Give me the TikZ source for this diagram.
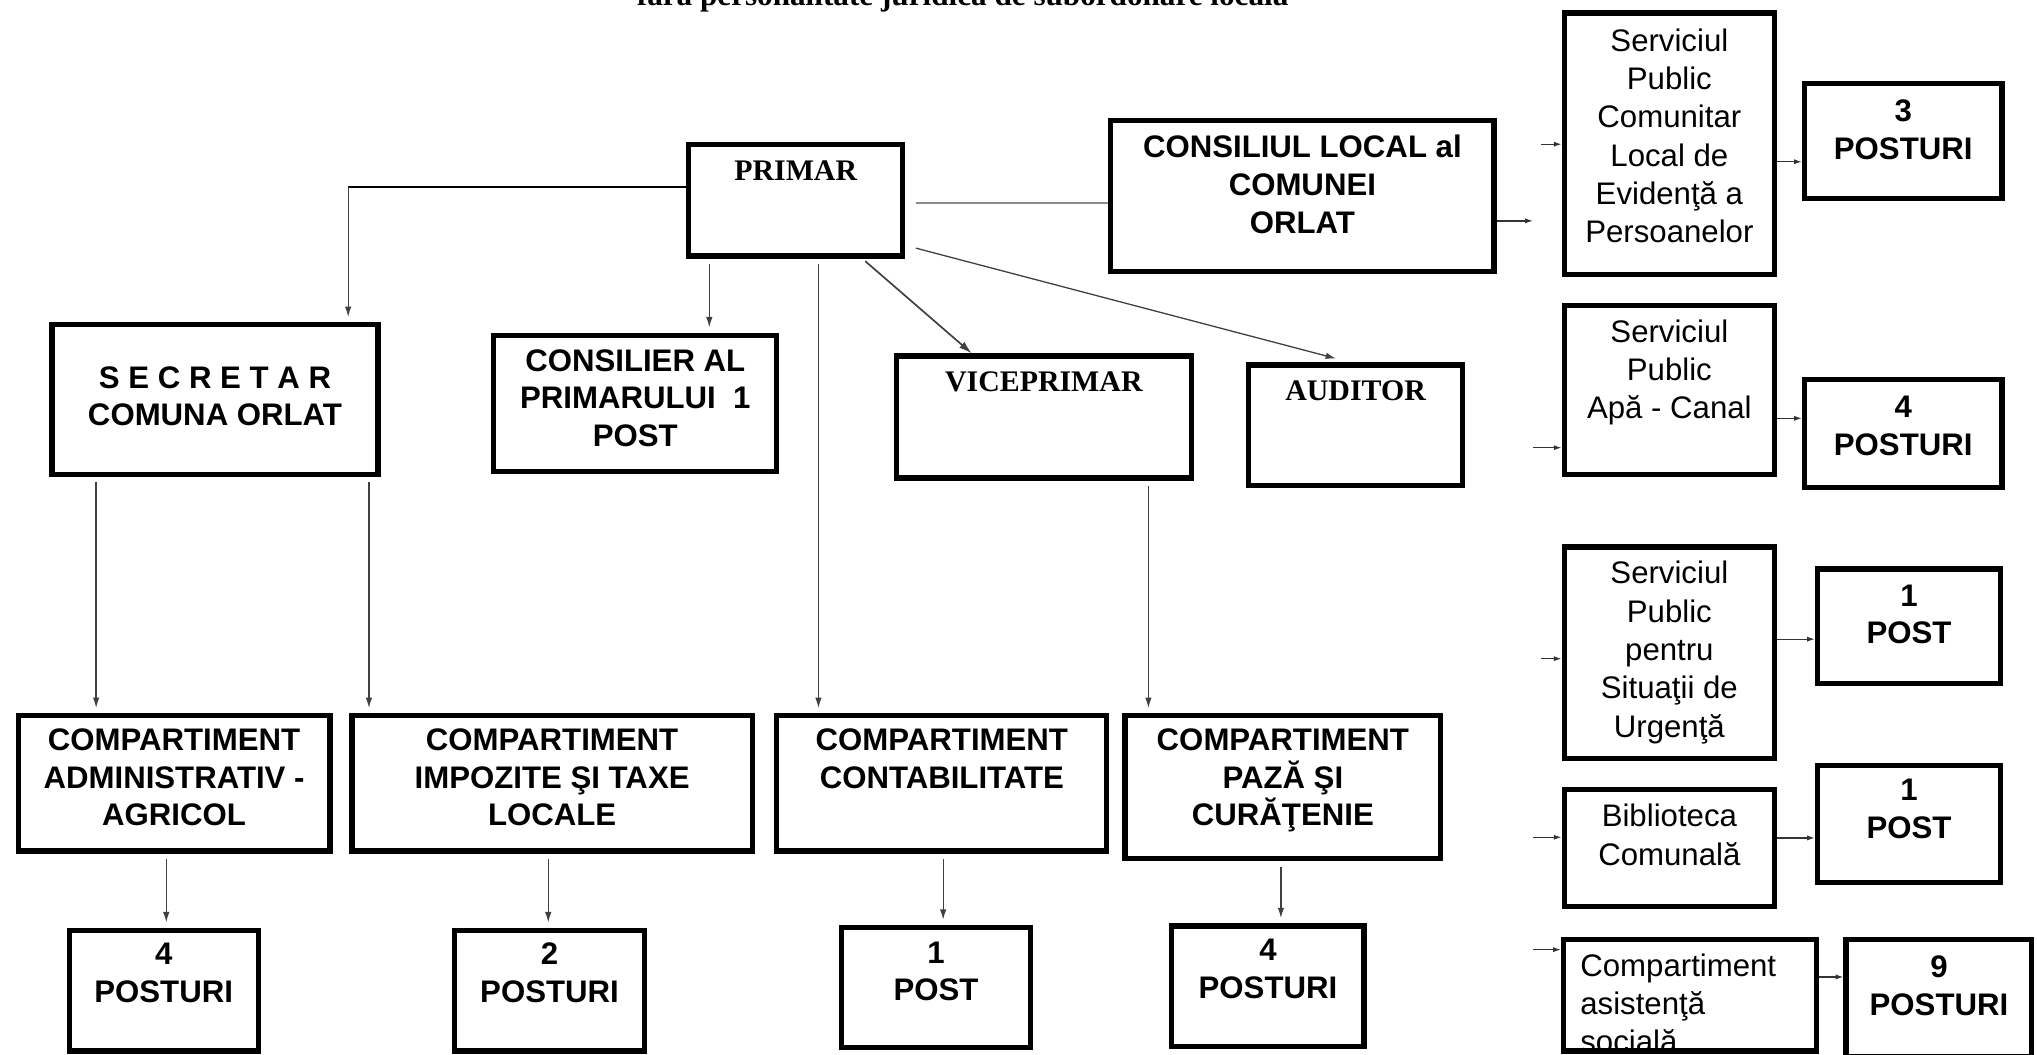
\documentclass[tikz,border=0pt]{standalone}
\usepackage{fontspec}
\setmainfont{Liberation Serif}
\setsansfont{Liberation Sans}
\usetikzlibrary{arrows.meta}
\newcommand{\boldsans}{\fontsize{24}{29}\selectfont\sffamily\bfseries}
\newcommand{\plainsans}{\fontsize{24}{29.5}\selectfont\sffamily}
\newcommand{\boldserif}{\fontsize{23}{28}\selectfont\rmfamily\bfseries}
\tikzstyle{unit_box}=[rectangle,draw,line width=4pt,inner sep=0pt]
\tikzstyle{box_text}=[anchor=north,align=center,inner sep=0pt,outer sep=0pt,font=\boldsans]
\tikzstyle{conn}=[line width=1pt,black!75,-{Latex[length=8pt,width=5pt]},shorten <=4pt,shorten >=4pt]
\tikzstyle{conn_short}=[line width=1pt,black!80,-{Latex[length=6pt,width=4pt]}]

\begin{document}
\begin{tikzpicture}[x=1pt,y=-1pt]
\useasboundingbox (0,0) rectangle (1568,812);
\node[anchor=base,font=\fontsize{24}{28}\selectfont\bfseries] (title) at (741,4.5) {fără personalitate juridică de subordonare locală};
% conducere
\node[unit_box,minimum width=165pt,minimum height=86pt,label={[box_text,font=\boldserif,yshift=-15pt]north:PRIMAR}] (primar) at (612.5,154) {};
\node[unit_box,minimum width=295pt,minimum height=116pt,label={[box_text,yshift=-13pt]north:{CONSILIUL LOCAL al\\COMUNEI\\ORLAT}}] (consiliul) at (1002.5,151) {};
\node[unit_box,minimum width=251pt,minimum height=115pt,label={[box_text,yshift=-34pt]north:{S E C R E T A R\\COMUNA ORLAT}}] (secretar) at (165.5,307.5) {};
\node[unit_box,minimum width=218pt,minimum height=105pt,label={[box_text,yshift=-13pt]north:{CONSILIER AL\\PRIMARULUI\ \ 1\\POST}}] (consilier) at (489,310.5) {};
\node[unit_box,minimum width=227pt,minimum height=94pt,label={[box_text,font=\boldserif,yshift=-14pt]north:VICEPRIMAR}] (viceprimar) at (803.5,321) {};
\node[unit_box,minimum width=165pt,minimum height=93pt,label={[box_text,font=\boldserif,yshift=-14pt]north:AUDITOR}] (auditor) at (1043.5,327.5) {};
% servicii publice
\node[unit_box,minimum width=162pt,minimum height=201pt,label={[box_text,font=\plainsans,yshift=-14pt]north:{Serviciul\\Public\\Comunitar\\Local de\\Evidenţă a\\Persoanelor}}] (spclep) at (1285,110.5) {};
\node[unit_box,minimum width=152pt,minimum height=89pt,label={[box_text,yshift=-15pt]north:{3\\POSTURI}}] (post3) at (1465,108.5) {};
\node[unit_box,minimum width=162pt,minimum height=130pt,label={[box_text,font=\plainsans,yshift=-13pt]north:{Serviciul\\Public\\Apă - Canal}}] (apacanal) at (1285,300) {};
\node[unit_box,minimum width=152pt,minimum height=83pt,label={[box_text,yshift=-15pt]north:{4\\POSTURI}}] (post4a) at (1465,333.5) {};
\node[unit_box,minimum width=162pt,minimum height=163pt,label={[box_text,font=\plainsans,yshift=-13pt]north:{Serviciul\\Public\\pentru\\Situaţii de\\Urgenţă}}] (situatii) at (1285,502.5) {};
\node[unit_box,minimum width=141pt,minimum height=88pt,label={[box_text,yshift=-14pt]north:{1\\POST}}] (post1a) at (1469.5,482) {};
\node[unit_box,minimum width=162pt,minimum height=90pt,label={[box_text,font=\plainsans,yshift=-13pt]north:{Biblioteca\\Comunală}}] (biblioteca) at (1285,653) {};
\node[unit_box,minimum width=141pt,minimum height=90pt,label={[box_text,yshift=-13pt]north:{1\\POST}}] (post1b) at (1469.5,634) {};
\node[unit_box,minimum width=195pt,minimum height=86pt,label={[box_text,anchor=north west,align=left,font=\plainsans,xshift=15pt,yshift=-13pt]north west:{Compartiment\\asistenţă\\socială}}] (asistenta) at (1301,766) {};
\node[unit_box,minimum width=143pt,minimum height=90pt,label={[box_text,yshift=-15pt]north:{9\\POSTURI}}] (post9) at (1492.5,768) {};
% compartimente
\node[unit_box,minimum width=240pt,minimum height=104pt,label={[box_text,yshift=-12pt]north:{COMPARTIMENT\\ADMINISTRATIV -\\AGRICOL}}] (admin) at (134,603) {};
\node[unit_box,minimum width=308pt,minimum height=104pt,label={[box_text,yshift=-12pt]north:{COMPARTIMENT\\IMPOZITE ŞI TAXE\\LOCALE}}] (impozite) at (425,603) {};
\node[unit_box,minimum width=254pt,minimum height=104pt,label={[box_text,yshift=-12pt]north:{COMPARTIMENT\\CONTABILITATE}}] (contab) at (725,603) {};
\node[unit_box,minimum width=243pt,minimum height=110pt,label={[box_text,yshift=-12pt]north:{COMPARTIMENT\\PAZĂ ŞI\\CURĂŢENIE}}] (paza) at (987.5,606) {};
\node[unit_box,minimum width=145.5pt,minimum height=93pt,label={[box_text,yshift=-12pt]north:{4\\POSTURI}}] (post4b) at (126,762.5) {};
\node[unit_box,minimum width=146pt,minimum height=93pt,label={[box_text,yshift=-12pt]north:{2\\POSTURI}}] (post2) at (423,762.5) {};
\node[unit_box,minimum width=145pt,minimum height=92pt,label={[box_text,yshift=-13pt]north:{1\\POST}}] (post1c) at (720.5,760) {};
\node[unit_box,minimum width=148pt,minimum height=92.5pt,label={[box_text,yshift=-12pt]north:{4\\POSTURI}}] (post4c) at (976,759) {};
% legaturi
\coordinate (secr_turn) at (268,144);
\draw[line width=1.6pt] ([yshift=10pt]primar.west) -- (secr_turn);
\draw[conn,shorten <=0pt] (secr_turn) -- (secr_turn |- secretar.north);
\draw[conn,line width=1.3pt,shorten <=0pt,shorten >=0pt,-{Latex[length=10pt,width=6pt]}] ([xshift=53.5pt,yshift=-2pt]primar.south) -- ([xshift=-55.5pt]viceprimar.north);
\draw[conn,shorten <=0pt,shorten >=12pt] ([xshift=8pt,yshift=-37pt]primar.east) -- ([xshift=-3.5pt]auditor.north);
\draw[line width=1.3pt,black!45] ([xshift=8pt,yshift=-2pt]primar.east) -- ([yshift=-5pt]consiliul.west);
\foreach \a/\b/\dx in {primar/consilier/-66.5,primar/contab/17.5,secretar/admin/-91.5,secretar/impozite/118.5,viceprimar/paza/80.5,admin/post4b/-6,impozite/post2/-3,contab/post1c/1,paza/post4c/-1.5}
  \draw[conn] ([xshift=\dx pt]\a.south) -- ([xshift=\dx pt]\a.south |- \b.north);
\coordinate (cl_out) at (1180,170);
\coordinate (in_spclep) at (1186,111);
\coordinate (in_apa) at (1180,344.6);
\coordinate (in_situatii) at (1186,507);
\coordinate (in_biblio) at (1180,644.5);
\coordinate (in_asist) at (1180,731);
\draw[conn_short] (consiliul.east |- cl_out) -- (cl_out);
\foreach \c/\b in {in_spclep/spclep,in_apa/apacanal,in_situatii/situatii,in_biblio/biblioteca,in_asist/asistenta}
  \draw[conn_short] (\c) -- (\c -| \b.west);
\foreach \a/\b/\dy in {spclep/post3/-14,apacanal/post4a/-22,situatii/post1a/10.5,biblioteca/post1b/8,asistenta/post9/14}
  \draw[conn_short] ([yshift=\dy pt]\a.east) -- ([yshift=\dy pt]\a.east -| \b.west);
\end{tikzpicture}
\end{document}
